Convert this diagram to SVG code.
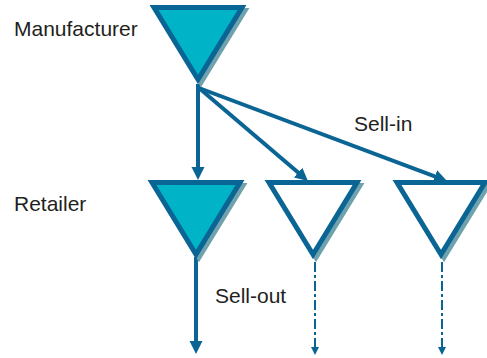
<svg xmlns="http://www.w3.org/2000/svg" width="487" height="358" viewBox="0 0 487 358">
<style>
.lbl{font-family:"Liberation Sans",Arial,sans-serif;font-size:21px;fill:#231f20}
.tri{stroke:#0b6594;stroke-width:5;stroke-linejoin:miter;stroke-miterlimit:10}
.shadow{fill:none;stroke:#6fa2ad;stroke-width:5;stroke-linejoin:miter;stroke-miterlimit:10}
.filled{fill:#00b3c7}
.open{fill:#ffffff}
.conn{stroke:#0b6594;stroke-width:4;fill:none}
.dash{stroke:#0b6594;stroke-width:2;fill:none;stroke-dasharray:10 3 3 3}
</style>
<defs>
<path id="tri" d="M-44 0 L44 0 L0 72 Z"/>
<marker id="ah" markerUnits="userSpaceOnUse" markerWidth="14" markerHeight="14" refX="7" refY="6.5" orient="auto">
<path d="M0 0 L13 6.5 L0 13 Z" fill="#0b6594"/>
</marker>
<marker id="ahs" markerUnits="userSpaceOnUse" markerWidth="10" markerHeight="10" refX="3" refY="4" orient="auto">
<path d="M0 0 L8 4 L0 8 Z" fill="#0b6594"/>
</marker>
</defs>
<g id="labels">
<text class="lbl" x="14" y="36">Manufacturer</text>
<text class="lbl" x="14" y="211">Retailer</text>
</g>
<g id="connectors">
<line class="conn" x1="198" y1="84" x2="198" y2="174" marker-end="url(#ah)"/>
<line class="conn" x1="199" y1="88" x2="303.4" y2="177.1" marker-end="url(#ah)"/>
<line class="conn" x1="199" y1="88" x2="441.4" y2="178.9" marker-end="url(#ah)"/>
<line class="conn" x1="196" y1="257" x2="196" y2="348" marker-end="url(#ah)"/>
<line class="dash" x1="315" y1="262" x2="315" y2="350" marker-end="url(#ahs)"/>
<line class="dash" x1="442" y1="262" x2="442" y2="350" marker-end="url(#ahs)"/>
<text class="lbl" x="354" y="131">Sell-in</text>
<text class="lbl" x="215" y="303">Sell-out</text>
</g>
<g id="manufacturer">
<use href="#tri" class="shadow" transform="translate(201,10.5)"/>
<use href="#tri" class="tri filled" transform="translate(198,7.5)"/>
</g>
<g id="retailer">
<use href="#tri" class="shadow" transform="translate(199,185.5)"/>
<use href="#tri" class="tri filled" transform="translate(196,182.5)"/>
</g>
<g id="retailer2">
<use href="#tri" class="shadow" transform="translate(316,185.5)"/>
<use href="#tri" class="tri open" transform="translate(313,182.5)"/>
</g>
<g id="retailer3">
<use href="#tri" class="shadow" transform="translate(444,185.5)"/>
<use href="#tri" class="tri open" transform="translate(441,182.5)"/>
</g>
</svg>
